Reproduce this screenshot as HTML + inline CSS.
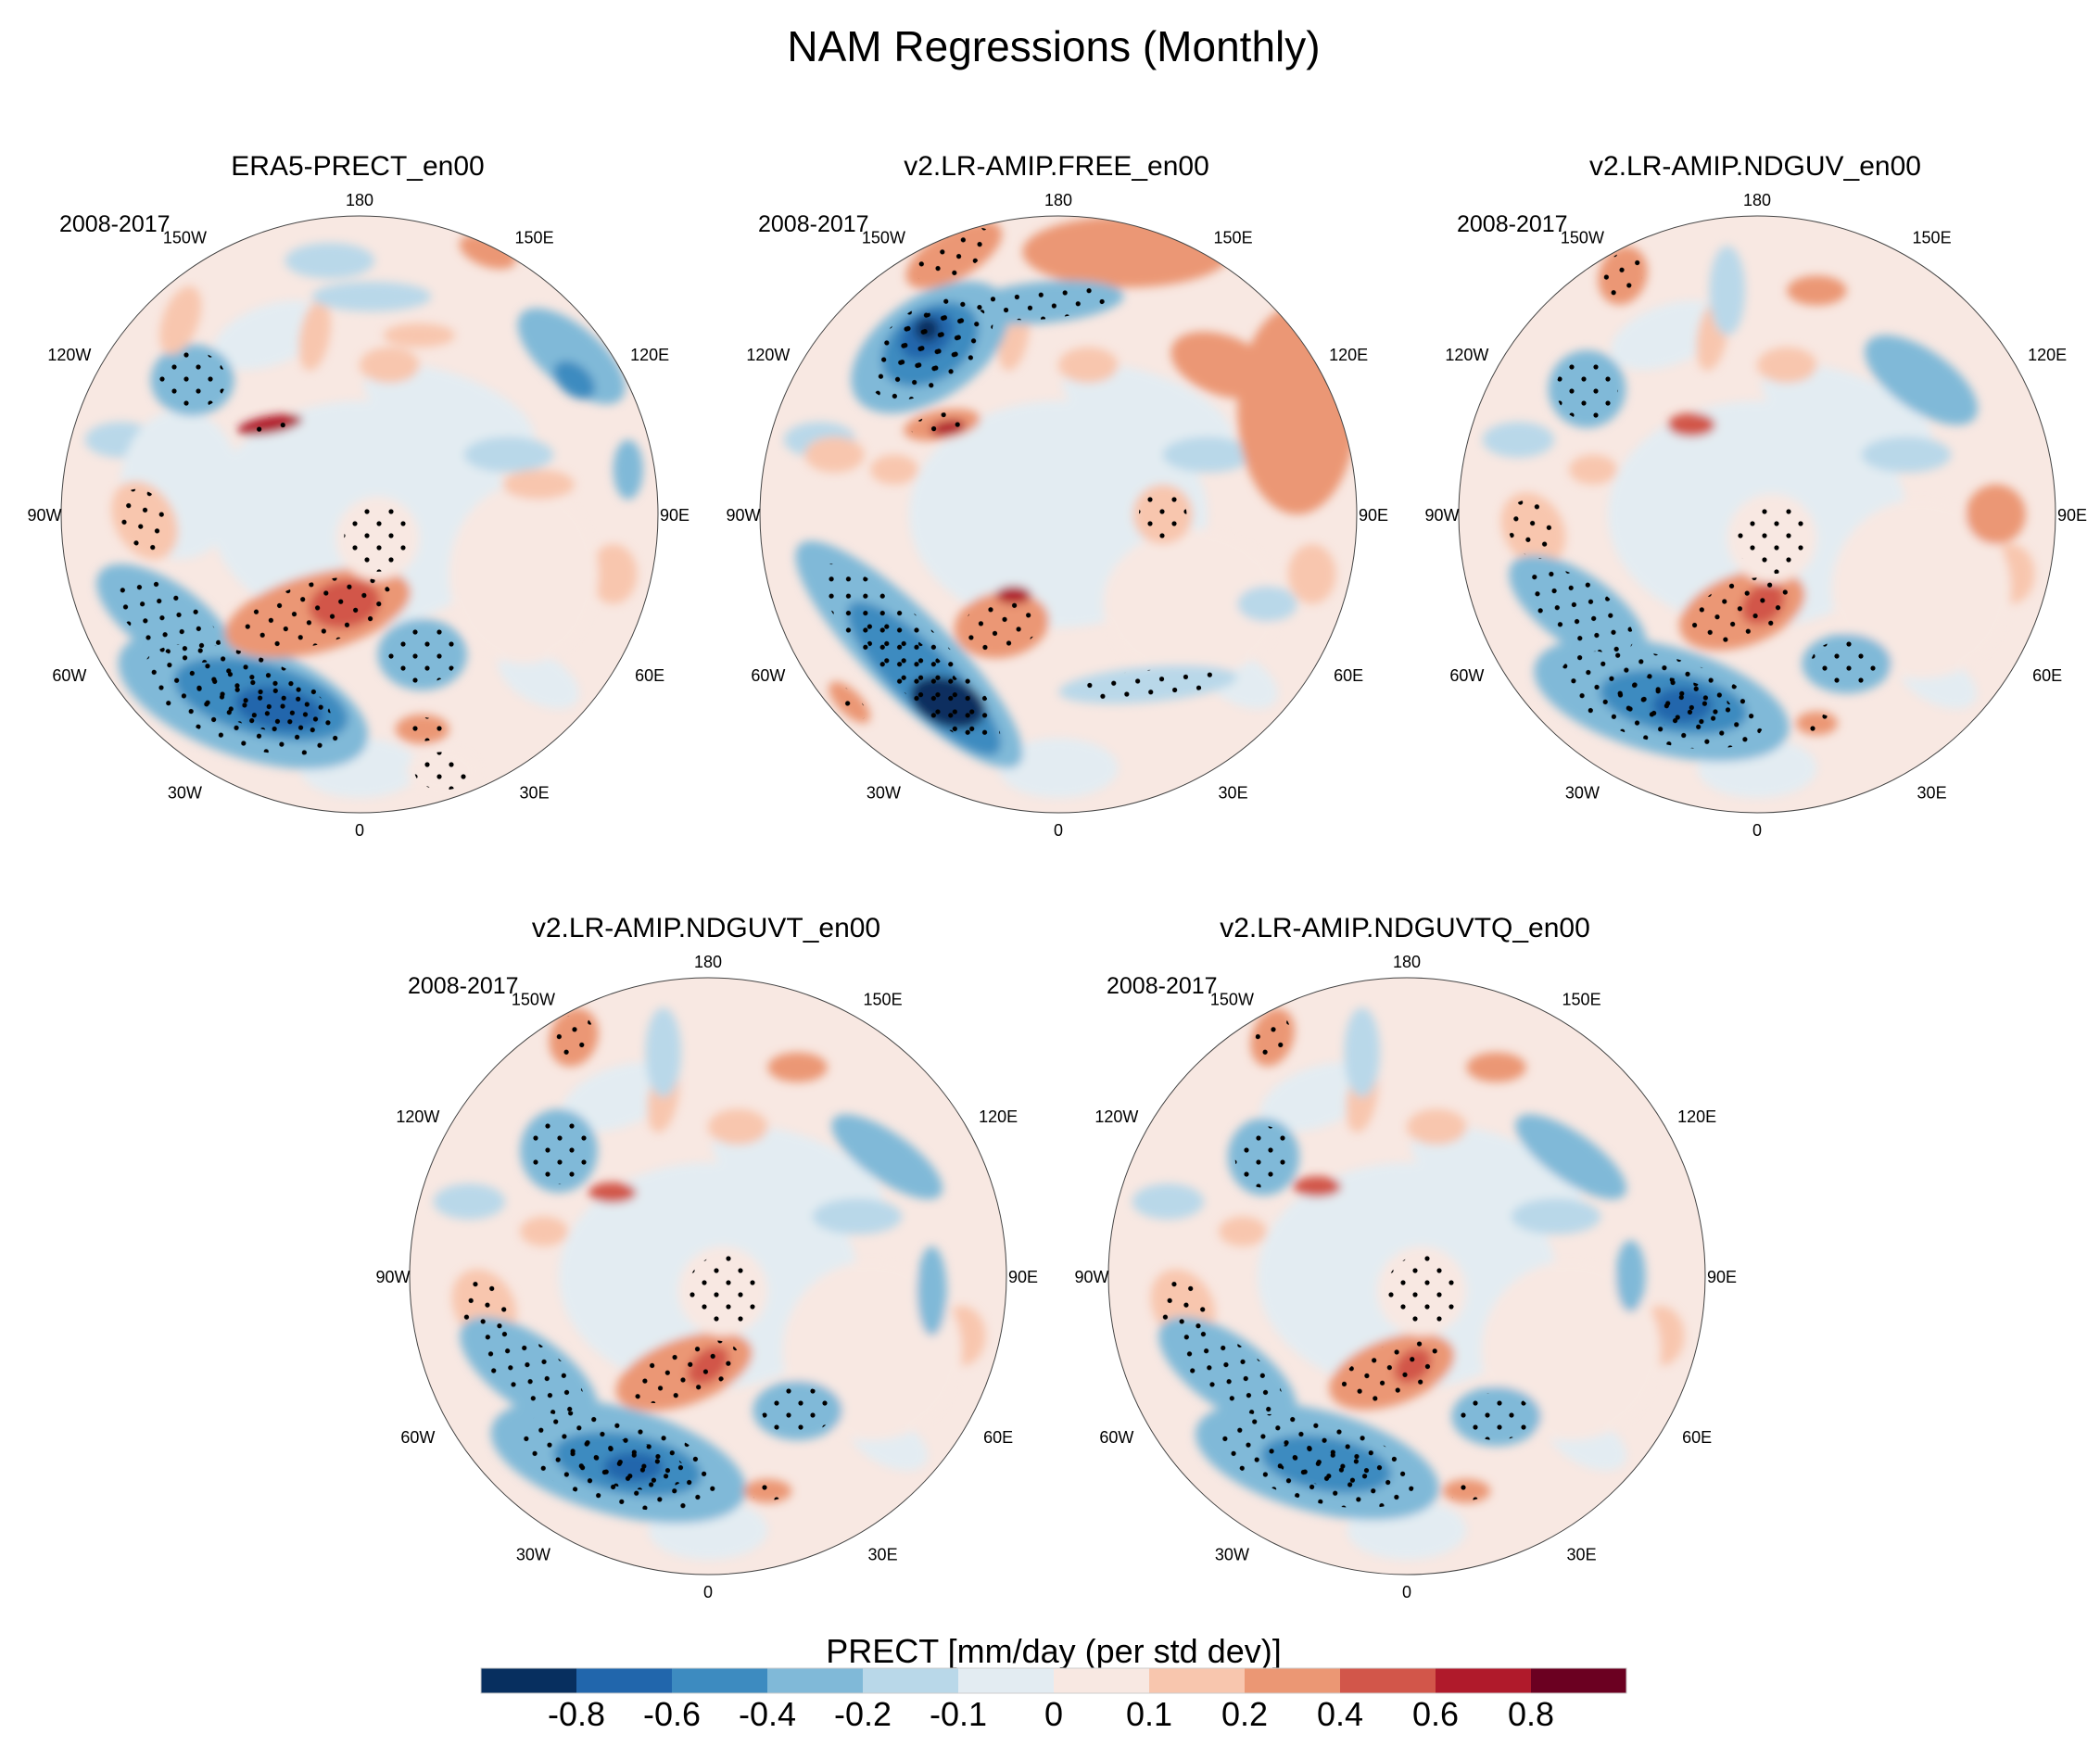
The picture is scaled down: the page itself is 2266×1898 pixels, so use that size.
<!DOCTYPE html>
<html><head><meta charset="utf-8">
<style>
html,body{margin:0;padding:0;background:#fff;}
body{width:2266px;height:1893px;overflow:hidden;font-family:"Liberation Sans",sans-serif;}
svg text{font-family:"Liberation Sans",sans-serif;}
</style></head>
<body>
<svg id="fig" width="2266" height="1893" viewBox="0 0 2266 1893" xmlns="http://www.w3.org/2000/svg">
<defs>
<filter id="soft" x="-20%" y="-20%" width="140%" height="140%"><feGaussianBlur stdDeviation="5"/></filter>
<pattern id="stip" width="26" height="26" patternUnits="userSpaceOnUse"><circle cx="6" cy="6" r="2.6" fill="#000"/><circle cx="19" cy="19" r="2.6" fill="#000"/></pattern>
</defs>
<text x="1137" y="66" font-size="46" text-anchor="middle">NAM Regressions (Monthly)</text>
<g id="panels"></g>
<g id="cbar"></g>
</svg>
<script>
// Colorbar data
const cbarColors = ["#072f5f","#2166ac","#3d8bc0","#80b9d8","#b9d8e9","#e3ecf2","#f8e8e2","#f8c6ae","#eb9774","#d2564a","#b01a2b","#6b0021"];
const cbarTicks = ["-0.8","-0.6","-0.4","-0.2","-0.1","0","0.1","0.2","0.4","0.6","0.8"];
const panelTitles = ["ERA5-PRECT_en00","v2.LR-AMIP.FREE_en00","v2.LR-AMIP.NDGUV_en00","v2.LR-AMIP.NDGUVT_en00","v2.LR-AMIP.NDGUVTQ_en00"];
const lonLabels = ["0","30E","60E","90E","120E","150E","180","150W","120W","90W","60W","30W"];
const lonDegrees = [0,30,60,90,120,150,180,210,240,270,300,330];
// shared light background texture: [dx, dy, rx, ry, rot, bin]
const commonTexture = [
 [-0.2,-0.1,0.25,0.2,0,5],[0.2,0.05,0.25,0.2,0,5],[0.3,-0.35,0.3,0.12,20,5],[-0.3,-0.6,0.2,0.1,-20,5],
 [0.6,0.55,0.15,0.08,30,5],[-0.8,-0.25,0.12,0.06,0,4],[0.1,-0.5,0.1,0.06,0,7],[-0.15,-0.6,0.05,0.12,10,7],
 [0.85,0.2,0.08,0.1,0,7],[-0.55,-0.15,0.08,0.05,0,7],[0.0,0.85,0.2,0.1,0,5],[0.5,-0.2,0.15,0.06,0,4]
];
// blobs: [dx, dy (units of radius), rx, ry, rotation deg, colour bin index, stippled 0/1]
const blobsERA = [
 [0,0,0.5,0.38,0,5,0],[-0.6,-0.1,0.2,0.25,0,5,0],[0.55,0.2,0.25,0.3,0,6,0],
 [-0.56,-0.45,0.14,0.12,0,3,1],[-0.3,-0.3,0.11,0.03,-10,10,1],[0.04,-0.73,0.2,0.05,0,4,0],[-0.1,-0.85,0.15,0.06,0,4,0],
 [0.71,-0.53,0.22,0.1,40,3,0],[0.72,-0.45,0.08,0.05,40,2,0],[0.43,-0.88,0.1,0.05,20,8,0],[0.2,-0.6,0.12,0.04,0,7,0],
 [-0.72,0.02,0.1,0.14,-30,7,1],[-0.6,-0.65,0.06,0.12,20,7,0],[0.6,-0.1,0.12,0.05,0,7,0],[0.9,-0.15,0.05,0.1,0,3,0],
 [-0.65,0.35,0.27,0.12,35,3,1],[-0.39,0.62,0.44,0.19,20,3,1],[-0.33,0.62,0.3,0.12,15,2,1],
 [-0.27,0.65,0.15,0.07,10,1,0],[-0.14,0.33,0.32,0.13,-15,8,1],[-0.05,0.3,0.12,0.08,-10,9,0],
 [0.06,0.08,0.14,0.14,0,6,1],[0.21,0.47,0.15,0.12,0,3,1],[0.21,0.72,0.09,0.05,0,8,1],[0.28,0.86,0.12,0.08,0,6,1]
];
const blobsFREE = [
 [0,0,0.5,0.38,0,5,0],[0.45,0.3,0.3,0.25,0,6,0],
 [0.23,-0.88,0.35,0.12,0,8,0],[0.8,-0.35,0.2,0.35,0,8,0],[0.55,-0.5,0.18,0.1,20,8,0],
 [-0.35,-0.87,0.18,0.08,-30,8,1],[-0.05,-0.71,0.27,0.07,-5,3,1],
 [-0.43,-0.56,0.3,0.17,-35,3,1],[-0.43,-0.57,0.18,0.12,-35,2,1],[-0.44,-0.6,0.1,0.07,-35,1,0],[-0.44,-0.62,0.04,0.04,0,0,0],
 [-0.39,-0.3,0.13,0.05,-10,8,1],[-0.37,-0.29,0.06,0.025,-10,10,0],
 [-0.5,0.47,0.52,0.14,45,3,1],[-0.45,0.55,0.35,0.1,45,2,1],[-0.37,0.63,0.13,0.08,20,0,0],
 [-0.19,0.37,0.16,0.11,-10,8,1],[-0.15,0.27,0.06,0.03,0,10,0],[0.35,0,0.1,0.1,0,7,1],
 [0.3,0.57,0.3,0.06,-5,4,1],[0.7,0.3,0.1,0.06,0,4,0],[-0.7,0.63,0.09,0.04,45,8,1],[-0.75,-0.2,0.1,0.06,0,7,0]
];
const blobsNDGUV = [
 [0,0,0.5,0.38,0,5,0],[0.55,0.25,0.3,0.3,0,6,0],
 [-0.57,-0.42,0.13,0.13,0,3,1],[-0.22,-0.3,0.08,0.04,0,9,0],[-0.45,-0.8,0.08,0.1,20,8,1],
 [0.55,-0.45,0.22,0.1,35,3,0],[0.2,-0.75,0.1,0.05,0,8,0],[0.8,0.0,0.1,0.1,0,8,0],[-0.1,-0.75,0.06,0.15,0,4,0],
 [-0.75,0.05,0.1,0.13,-30,7,1],
 [-0.6,0.32,0.27,0.12,35,3,1],[-0.32,0.62,0.44,0.18,15,3,1],[-0.28,0.63,0.25,0.1,10,2,1],[-0.25,0.64,0.1,0.06,0,1,0],
 [-0.05,0.32,0.22,0.12,-20,8,1],[0.02,0.3,0.08,0.06,-40,9,0],[0.05,0.08,0.15,0.15,0,6,1],
 [0.3,0.5,0.15,0.1,0,3,1],[0.2,0.7,0.07,0.04,0,8,1]
];
const blobsNDGUVT = [
 [0,0,0.5,0.38,0,5,0],[0.55,0.25,0.3,0.3,0,6,0],
 [-0.5,-0.42,0.13,0.14,0,3,1],[-0.32,-0.28,0.08,0.035,0,9,0],[-0.45,-0.8,0.08,0.1,20,8,1],
 [0.6,-0.4,0.22,0.08,35,3,0],[0.3,-0.7,0.1,0.05,0,8,0],[0.75,0.05,0.05,0.15,0,3,0],[-0.15,-0.75,0.06,0.15,0,4,0],
 [-0.75,0.1,0.1,0.13,-30,7,1],
 [-0.6,0.32,0.27,0.12,35,3,1],[-0.3,0.62,0.44,0.18,15,3,1],[-0.27,0.63,0.25,0.1,10,2,1],[-0.25,0.64,0.1,0.05,0,1,0],
 [-0.08,0.32,0.24,0.11,-20,8,1],[0.0,0.3,0.08,0.05,-40,9,0],[0.05,0.05,0.15,0.15,0,6,1],
 [0.3,0.45,0.15,0.1,0,3,1],[0.2,0.72,0.08,0.04,0,8,1]
];
const blobsNDGUVTQ = [
 [0,0,0.5,0.38,0,5,0],[0.55,0.25,0.3,0.3,0,6,0],
 [-0.48,-0.4,0.12,0.13,0,3,1],[-0.3,-0.3,0.08,0.035,0,9,0],[-0.45,-0.8,0.07,0.1,20,8,1],
 [0.55,-0.4,0.22,0.08,35,3,0],[0.3,-0.7,0.1,0.05,0,8,0],[0.75,0.0,0.05,0.12,0,3,0],[-0.15,-0.75,0.06,0.15,0,4,0],
 [-0.75,0.1,0.1,0.13,-30,7,1],
 [-0.6,0.32,0.27,0.12,35,3,1],[-0.3,0.62,0.42,0.17,15,3,1],[-0.27,0.63,0.22,0.09,10,2,1],
 [-0.05,0.32,0.22,0.11,-20,8,1],[0.02,0.3,0.07,0.05,-40,9,0],[0.05,0.05,0.15,0.15,0,6,1],
 [0.3,0.47,0.15,0.1,0,3,1],[0.2,0.72,0.08,0.04,0,8,1]
];
const panelBlobs = [blobsERA, blobsFREE, blobsNDGUV, blobsNDGUVT, blobsNDGUVTQ];

const NS = "http://www.w3.org/2000/svg";
function mk(tag, attrs, parent){ const e=document.createElementNS(NS,tag); for(const k in attrs) e.setAttribute(k,attrs[k]); if(parent) parent.appendChild(e); return e; }
const centers = [[388,555],[1142,555],[1896,555],[764,1377],[1518,1377]];
const R = 322;
const panels = document.getElementById('panels');
centers.forEach((c,i)=>{
  const [cx,cy]=c;
  const g = mk('g',{},panels);
  
  
  const t = mk('text',{x:cx-2,y:cy-366,'font-size':30,'text-anchor':'middle'},g);
  t.textContent = panelTitles[i];
  
  
  const per = mk('text',{x:cx-324,y:cy-305,'font-size':25},g);
  per.textContent = "2008-2017";
  
  
  const cp = mk('clipPath',{id:'clip'+i},g);
  mk('circle',{cx:cx,cy:cy,r:R},cp);
  const field = mk('g',{'clip-path':'url(#clip'+i+')'},g);
  
  
  mk('circle',{cx:cx,cy:cy,r:R,fill:cbarColors[6]},field);
  const bg = mk('g',{filter:'url(#soft)'},field);
  const allBlobs = [panelBlobs[i][0]].concat(commonTexture.map(b=>b.concat([0])), panelBlobs[i].slice(1));
  allBlobs.forEach(b=>{
    const e = mk('ellipse',{cx:cx+b[0]*R,cy:cy+b[1]*R,rx:b[2]*R,ry:b[3]*R,fill:cbarColors[b[5]],transform:`rotate(${b[4]} ${cx+b[0]*R} ${cy+b[1]*R})`},bg);
    
    
  });
  panelBlobs[i].forEach(b=>{
    if(b[6]){
      const s = mk('ellipse',{cx:cx+b[0]*R,cy:cy+b[1]*R,rx:b[2]*R*0.8,ry:b[3]*R*0.8,fill:'url(#stip)',transform:`rotate(${b[4]} ${cx+b[0]*R} ${cy+b[1]*R})`},field);
      
      
    }
  });
  const border = mk('circle',{cx:cx,cy:cy,r:R,fill:'none',stroke:'#444','stroke-width':1},g);
  
  
  lonDegrees.forEach((d,j)=>{
    const a = d*Math.PI/180, rr = (d%90===0)? 340 : 346;
    const nearPole = (d===30||d===150||d===210||d===330);
    const fx = (d%90===0)?1:(nearPole?1.09:1.045);
    const lt = mk('text',{x:cx+rr*Math.sin(a)*fx,y:cy+rr*Math.cos(a)+7,'font-size':18,'text-anchor':'middle'},g);
    lt.textContent = lonLabels[j];
    
    
  });
});
// colorbar
const cb = document.getElementById('cbar');
const x0=519, x1=1755, y0=1800, h=27, n=cbarColors.length, w=(x1-x0)/n;
const ct = mk('text',{x:1137,y:1794,'font-size':36,'text-anchor':'middle'},cb);
ct.textContent = "PRECT [mm/day (per std dev)]";


cbarColors.forEach((col,k)=>{
  const r = mk('rect',{x:x0+k*w,y:y0,width:w+0.5,height:h,fill:col},cb);
  
  
});
mk('rect',{x:x0,y:y0,width:x1-x0,height:h,fill:'none',stroke:'#ccc','stroke-width':1},cb);
cbarTicks.forEach((lab,k)=>{
  const tt = mk('text',{x:x0+(k+1)*w,y:1862,'font-size':36,'text-anchor':'middle'},cb);
  tt.textContent = lab;
  
  
});
</script>
</body></html>
